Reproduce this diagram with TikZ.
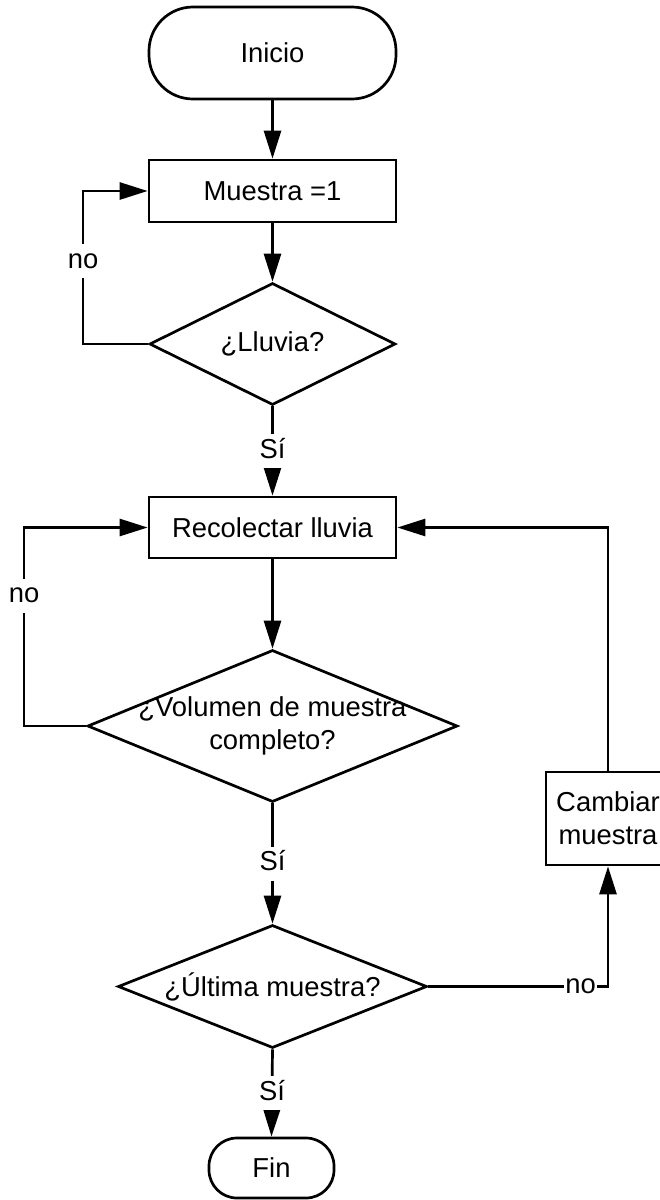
\documentclass[tikz,border=0pt]{standalone}
\usepackage{fontspec}
\setmainfont{Liberation Sans}
\usetikzlibrary{shapes.geometric,arrows.meta}
\begin{document}
\begin{tikzpicture}[x=1bp,y=-1bp,
  every node/.style={font=\fontsize{27.5}{33}\selectfont},
  base/.style={draw=black, line width=2.7bp, inner sep=0pt, fill=white, align=center},
  stadium/.style={base, rectangle, rounded corners=#1},
  procbox/.style={base, rectangle},
  dia/.style={base, diamond},
  conn/.style={draw=black, line width=2.7bp},
  arr/.style={conn, -{Triangle[length=28bp,width=17bp]}},
  lbl/.style={fill=white, inner xsep=1.5bp, inner ysep=4bp, text height=20bp, text depth=6bp}
]
\useasboundingbox (0,0) rectangle (660,1200);
\clip (0,0) rectangle (660,1200);
\fill[white] (0,0) rectangle (660,1200);

\node[stadium=44bp, minimum width=247bp, minimum height=92bp] (inicio) at (272.5,53) {Inicio};
\node[procbox, minimum width=247bp, minimum height=62bp] (muestra) at (272.5,191) {Muestra =1};
\node[dia, minimum width=246bp, minimum height=122bp, label=center:{¿Lluvia?}] (lluvia) at (272.5,344) {};
\node[procbox, minimum width=247bp, minimum height=61bp] (recolectar) at (272.5,527.5) {Recolectar lluvia};
\node[dia, minimum width=370bp, minimum height=152bp, label={[align=center]center:{¿Volumen de muestra\\completo?}}] (volumen) at (272.5,726) {};
\node[dia, minimum width=309bp, minimum height=123bp, label=center:{¿Última muestra?}] (ultima) at (272.5,986.5) {};
\node[stadium=28bp, minimum width=125bp, minimum height=60bp] (fin) at (271.5,1168) {Fin};
\node[procbox, minimum width=124bp, minimum height=93bp] (cambiar) at (608,818.5) {Cambiar\\muestra};

\draw[arr] (inicio) -- (muestra);
\draw[arr] (muestra) -- (lluvia);
\draw[arr] (lluvia.west) -- ++(-65,0) |- node[lbl,pos=0.27]{no} (muestra.west);
\draw[arr] (lluvia.south) -- node[lbl]{Sí} (recolectar.north);
\draw[arr] (recolectar) -- (volumen.north);
\draw[arr] (volumen.west) -- ++(-62,0) |- node[lbl,pos=0.328]{no} (recolectar.west);
\draw[arr] (volumen.south) -- node[lbl]{Sí} (ultima.north);
\draw[arr] (ultima.south) -- node[lbl]{Sí} (fin.north);
\draw[arr] (ultima.east) -| node[lbl,pos=0.424]{no} (cambiar.south);
\draw[arr] (cambiar.north) |- (recolectar.east);
\end{tikzpicture}
\end{document}
